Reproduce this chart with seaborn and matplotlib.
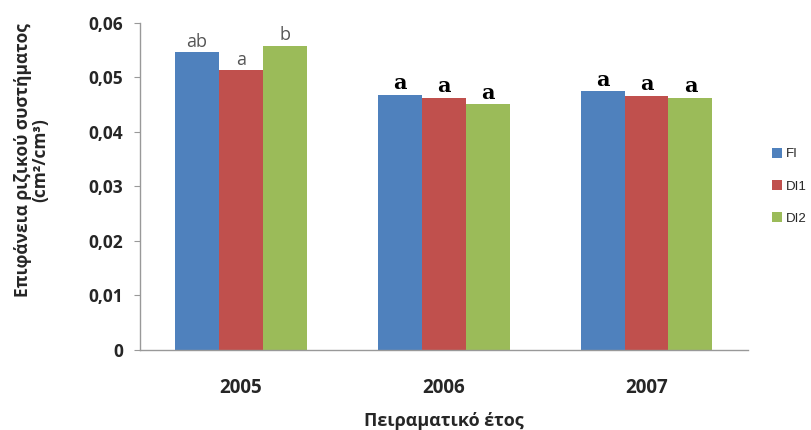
import matplotlib
matplotlib.use("Agg")
import matplotlib.pyplot as plt
import pandas as pd
import seaborn as sns
from matplotlib.ticker import FixedLocator

sns.set_style("white")
plt.rcParams["font.family"] = ["Open Sans", "DejaVu Sans"]

# data
years = ["2005", "2006", "2007"]
treatments = ["FI", "DI1", "DI2"]
fi_values = [0.0546, 0.0468, 0.0475]
di1_values = [0.0513, 0.0463, 0.0466]
di2_values = [0.0558, 0.0451, 0.0463]
letters = {
    "FI": ["ab", "a", "a"],
    "DI1": ["a", "a", "a"],
    "DI2": ["b", "a", "a"],
}
y_ticks = [0, 0.01, 0.02, 0.03, 0.04, 0.05, 0.06]
y_tick_labels = ["0", "0,01", "0,02", "0,03", "0,04", "0,05", "0,06"]

colors = ["#4F81BD", "#C0504D", "#9BBB59"]


def build_frame() -> pd.DataFrame:
    rows = []
    for treat, vals in zip(treatments, [fi_values, di1_values, di2_values]):
        for year, v in zip(years, vals):
            rows.append({"year": year, "treatment": treat, "value": v})
    return pd.DataFrame(rows)


def plot_data(data) -> None:
    fig = plt.figure(figsize=(8.12, 4.3), dpi=100)
    ax = fig.add_axes([0.172, 0.186, 0.749, 0.761])

    sns.barplot(data=data, x="year", y="value", hue="treatment", order=years,
                hue_order=treatments, palette=colors, width=0.65, saturation=1,
                errorbar=None, linewidth=0, ax=ax)

    # γράμματα σημαντικότητας πάνω από τις μπάρες
    for container, treat in zip(ax.containers, treatments):
        texts = ax.bar_label(container, labels=letters[treat], padding=1)
        for i, t in enumerate(texts):
            if i == 0:
                t.set_color("#555555")
                t.set_fontsize(13)
            else:
                t.set_color("black")
                t.set_fontsize(15)
                t.set_fontweight("bold")
                t.set_family(["DejaVu Serif"])

    ax.set_ylim(0, 0.06)
    ax.set_xlim(-0.5, 2.5)
    ax.set_yticks(y_ticks)
    ax.set_yticklabels(y_tick_labels, fontsize=12.5, fontweight="bold")
    ax.set_xticks(range(len(years)))
    ax.set_xticklabels(years, fontsize=13.5, fontweight="bold")
    ax.xaxis.set_minor_locator(FixedLocator([-0.5, 0.5, 1.5, 2.5]))
    ax.tick_params(axis="x", which="major", length=0, pad=20)
    ax.tick_params(axis="x", which="minor", length=4, color="#999999", direction="out")
    ax.tick_params(axis="y", length=4, color="#999999", direction="out", left=True, pad=8)

    for side in ["top", "right"]:
        ax.spines[side].set_visible(False)
    for side in ["left", "bottom"]:
        ax.spines[side].set_color("#999999")
        ax.spines[side].set_linewidth(1)

    ax.set_xlabel("Πειραματικό έτος", fontsize=13, fontweight="bold", labelpad=10)
    ax.set_ylabel("Επιφάνεια ριζικού συστήματος\n(cm²/cm³)", fontsize=12.5,
                  fontweight="bold", linespacing=1.0)
    ax.yaxis.set_label_coords(-0.148, 0.58)

    handles, labels = ax.get_legend_handles_labels()
    ax.legend(handles, labels, loc="center left", bbox_to_anchor=(1.02, 0.5),
              frameon=False, handlelength=0.75, handleheight=0.75, handletextpad=0.3,
              labelspacing=1.5, prop={"family": "Liberation Sans", "size": 9.5})

    fig.savefig("out.png", dpi=100)


def main() -> None:
    data = build_frame()
    plot_data(data)


if __name__ == "__main__":
    main()
